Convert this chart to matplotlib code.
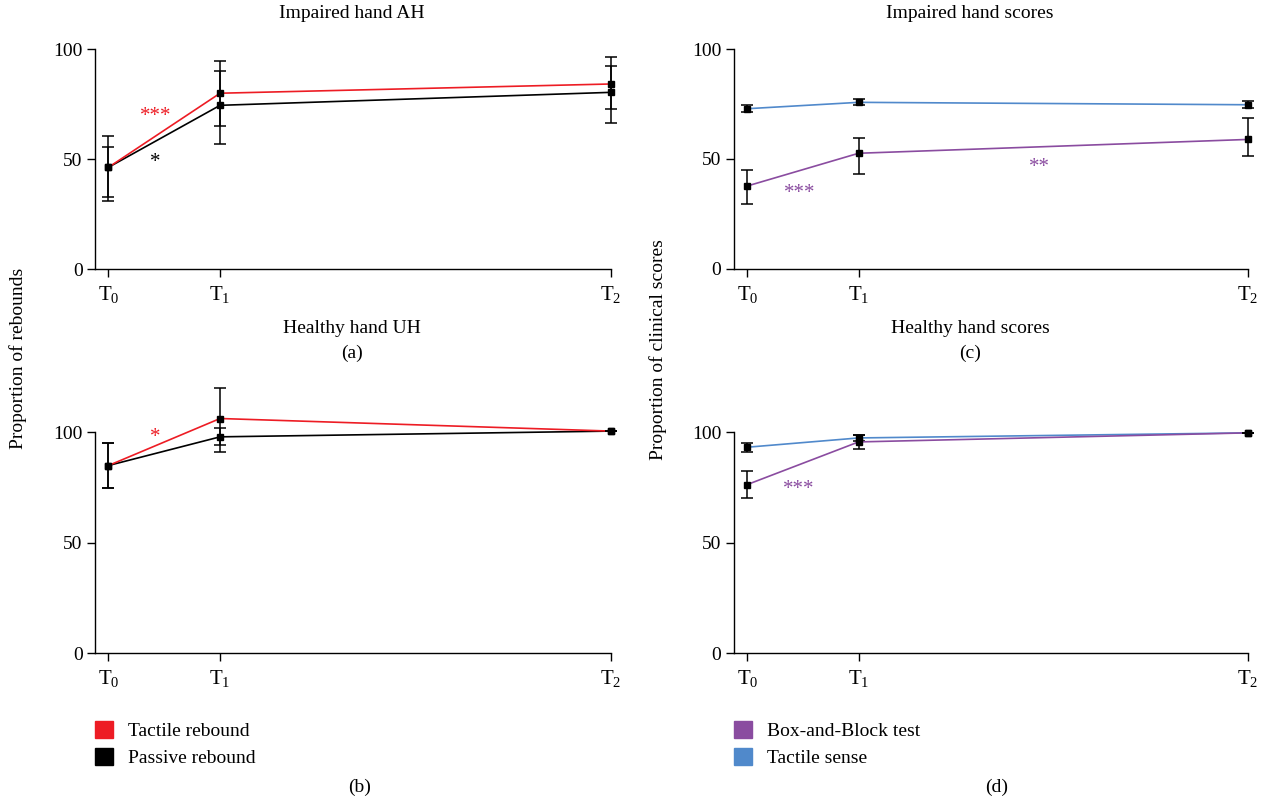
import numpy as np
import matplotlib
matplotlib.use("Agg")
import matplotlib.pyplot as plt
from matplotlib.patches import Patch

plt.rcParams['font.family'] = ['Liberation Serif', 'DejaVu Serif']
plt.rcParams['mathtext.fontset'] = 'custom'
plt.rcParams['mathtext.rm'] = 'Liberation Serif'
plt.rcParams['font.size'] = 14

# sessions (T1 ~ 1 unit after T0, T2 ~ 4.5 units)
times = [0, 1, 4.5]
time_labels = [r'$\mathregular{T_0}$', r'$\mathregular{T_1}$', r'$\mathregular{T_2}$']
yticks = [0, 50, 100]

# (a) impaired hand AH - proportion of rebounds
a_tactile = [46.2, 79.9, 84.1]
a_tactile_lo = [15.3, 14.8, 11.4]
a_tactile_hi = [14.4, 14.6, 12.4]
a_passive = [46.2, 74.4, 80.3]
a_passive_lo = [13.3, 17.4, 14.1]
a_passive_hi = [9.1, 15.6, 12.1]

# (b) healthy hand UH
b_tactile = [84.9, 106.2, 100.5]
b_tactile_lo = [10.0, 15.0, 0.0]
b_tactile_hi = [10.0, 14.0, 0.0]
b_passive = [84.9, 97.9, 100.5]
b_passive_lo = [10.0, 3.8, 0.0]
b_passive_hi = [10.0, 3.8, 0.0]

# (c) impaired hand clinical scores
c_bbt = [37.6, 52.5, 58.8]
c_bbt_lo = [8.4, 9.3, 7.7]
c_bbt_hi = [7.3, 6.8, 9.6]
c_tact = [72.8, 75.7, 74.6]
c_tact_err = [1.5, 1.3, 1.7]

# (d) healthy hand clinical scores
d_bbt = [76.3, 95.6, 99.7]
d_bbt_err = [6.0, 3.0, 0.0]
d_tact = [93.2, 97.4, 99.7]
d_tact_err = [2.0, 1.5, 0.0]

RED = '#ed1c24'
BLACK = '#000000'
PURPLE = '#8a4ca0'
BLUE = '#5089cb'

W, H = 1268, 799
fig = plt.figure(figsize=(W / 100, H / 100), dpi=100)


def make_ax(left, right, top, bottom):
    return fig.add_axes([left / W, 1 - bottom / H, (right - left) / W, (bottom - top) / H])


def style(ax, ytop):
    ax.set_xlim(-0.12, 4.5)
    ax.set_ylim(0, ytop)
    for s in ['top', 'right']:
        ax.spines[s].set_visible(False)
    ax.spines['left'].set_bounds(0, 100)
    ax.spines['left'].set_linewidth(1.0)
    ax.spines['bottom'].set_linewidth(1.0)
    ax.set_xticks(times)
    ax.set_xticklabels(time_labels, fontsize=15)
    ax.set_yticks(yticks)
    ax.tick_params(axis='both', direction='out', length=6, width=1.0)
    ax.tick_params(axis='x', pad=5)
    ax.tick_params(axis='y', pad=3)


def series(ax, y, lo, hi, color, z):
    ax.plot(times, y, color=color, lw=1.2, zorder=z, clip_on=False)
    eb = ax.errorbar(times, y, yerr=[lo, hi], fmt='s', color='black', ms=4.5,
                     ecolor='black', elinewidth=1.1, capsize=4.5, capthick=1.1, zorder=z + 1)
    for art in eb.lines[0:1] + tuple(eb.lines[1]) + tuple(eb.lines[2]):
        art.set_clip_on(False)


ax_a = make_ax(95, 611, 49, 269)
ax_b = make_ax(95, 611, 377, 653)
ax_c = make_ax(734, 1248, 49, 268.5)
ax_d = make_ax(734, 1248, 377, 653)

series(ax_a, a_passive, a_passive_lo, a_passive_hi, BLACK, 2)
series(ax_a, a_tactile, a_tactile_lo, a_tactile_hi, RED, 4)
style(ax_a, 100)
ax_a.text(0.42, 67.3, '***', color=RED, ha='center', va='baseline', fontsize=15)
ax_a.text(0.42, 46.4, '*', color=BLACK, ha='center', va='baseline', fontsize=15)

series(ax_b, b_passive, b_passive_lo, b_passive_hi, BLACK, 2)
series(ax_b, b_tactile, b_tactile_lo, b_tactile_hi, RED, 4)
style(ax_b, 125)
ax_b.text(0.42, 95.5, '*', color=RED, ha='center', va='baseline', fontsize=15)

series(ax_c, c_tact, c_tact_err, c_tact_err, BLUE, 2)
series(ax_c, c_bbt, c_bbt_lo, c_bbt_hi, PURPLE, 4)
style(ax_c, 100)
ax_c.text(0.47, 32.1, '***', color=PURPLE, ha='center', va='baseline', fontsize=15)
ax_c.text(2.63, 44.0, '**', color=PURPLE, ha='center', va='baseline', fontsize=15)

series(ax_d, d_tact, d_tact_err, d_tact_err, BLUE, 2)
series(ax_d, d_bbt, d_bbt_err, d_bbt_err, PURPLE, 4)
style(ax_d, 125)
ax_d.text(0.46, 72.0, '***', color=PURPLE, ha='center', va='baseline', fontsize=15)

# titles and panel letters
fig.text(352 / W, 1 - 13 / H, 'Impaired hand AH', ha='center', va='center', fontsize=14)
fig.text(352 / W, 1 - 328 / H, 'Healthy hand UH', ha='center', va='center', fontsize=14)
fig.text(352 / W, 1 - 353 / H, '(a)', ha='center', va='center', fontsize=14)
fig.text(970 / W, 1 - 13 / H, 'Impaired hand scores', ha='center', va='center', fontsize=14)
fig.text(970 / W, 1 - 328 / H, 'Healthy hand scores', ha='center', va='center', fontsize=14)
fig.text(970 / W, 1 - 353 / H, '(c)', ha='center', va='center', fontsize=14)
fig.text(360 / W, 1 - 787 / H, '(b)', ha='center', va='center', fontsize=14)
fig.text(997 / W, 1 - 787 / H, '(d)', ha='center', va='center', fontsize=14)

fig.text(18 / W, 1 - 358 / H, 'Proportion of rebounds', rotation=90, ha='center', va='center', fontsize=14)
fig.text(658 / W, 1 - 350 / H, 'Proportion of clinical scores', rotation=90, ha='center', va='center', fontsize=14)

leg_kw = dict(frameon=False, handlelength=0.95, handleheight=0.95, handletextpad=0.75,
              labelspacing=0.4, fontsize=14, borderpad=0, borderaxespad=0)
fig.legend(handles=[Patch(color=RED, label='Tactile rebound'),
                    Patch(color=BLACK, label='Passive rebound')],
           loc='upper left', bbox_to_anchor=(95 / W, 1 - 721 / H), **leg_kw)
fig.legend(handles=[Patch(color=PURPLE, label='Box-and-Block test'),
                    Patch(color=BLUE, label='Tactile sense')],
           loc='upper left', bbox_to_anchor=(734 / W, 1 - 721 / H), **leg_kw)

fig.savefig('out.png', dpi=100)
